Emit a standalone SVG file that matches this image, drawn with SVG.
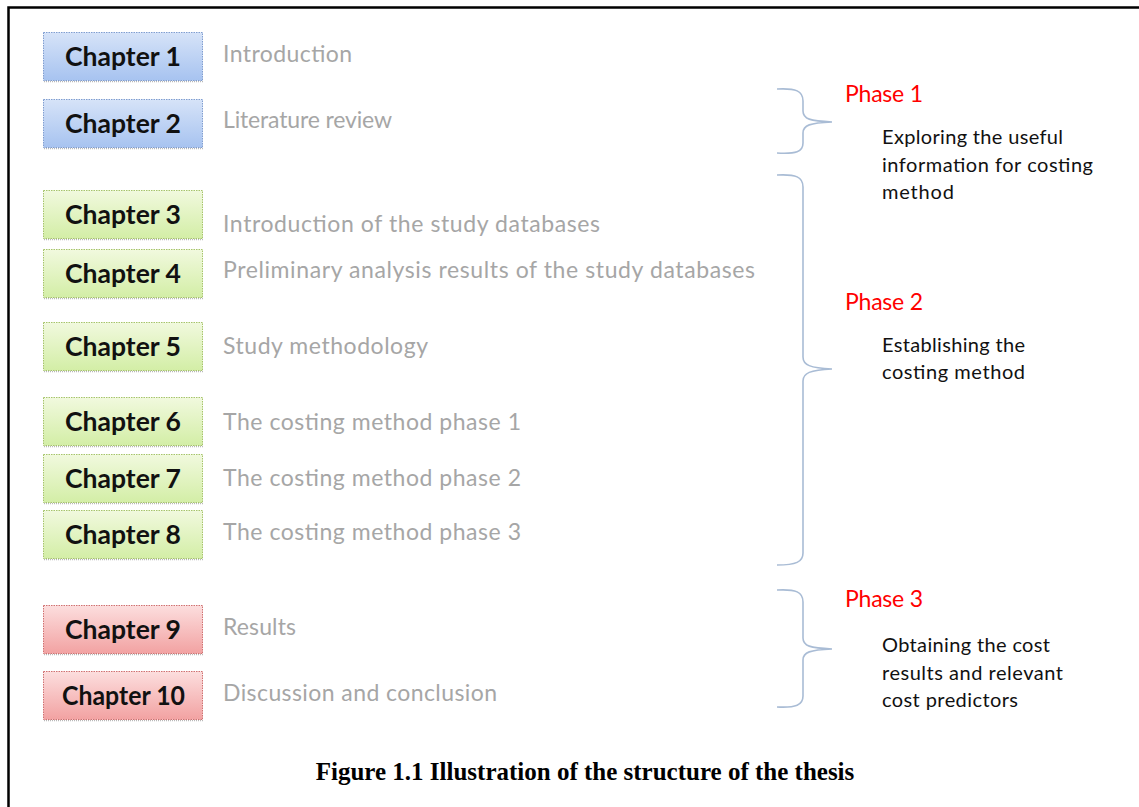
<svg xmlns="http://www.w3.org/2000/svg" width="1139" height="807" viewBox="0 0 1139 807">
  <defs>
    <linearGradient id="gBlue" x1="0" y1="0" x2="0" y2="1">
      <stop offset="0" stop-color="#d6e3f8"/>
      <stop offset="1" stop-color="#a7c3f0"/>
    </linearGradient>
    <linearGradient id="gGreen" x1="0" y1="0" x2="0" y2="1">
      <stop offset="0" stop-color="#f1f9de"/>
      <stop offset="1" stop-color="#d3eea6"/>
    </linearGradient>
    <linearGradient id="gRed" x1="0" y1="0" x2="0" y2="1">
      <stop offset="0" stop-color="#fcdede"/>
      <stop offset="1" stop-color="#f2a2a2"/>
    </linearGradient>
  </defs>
  <style>
    .frame { fill: none; stroke: #000; stroke-width: 2.5; }
    .box { stroke-width: 1; stroke-dasharray: 1.5 1; }
    .blue { fill: url(#gBlue); stroke: #7f9dd0; }
    .green { fill: url(#gGreen); stroke: #a6c46a; }
    .red { fill: url(#gRed); stroke: #d07070; }
    .shadow { stroke: #b8b8b8; stroke-width: 1.5; stroke-dasharray: 1 1; }
    .chap { font-family: Lato, "Liberation Sans", sans-serif; font-weight: bold; font-size: 26px; fill: #111; }
    .desc { font-family: Lato, "Open Sans", sans-serif; font-size: 23px; fill: #a6a6a6; }
    .phase { font-family: Lato, "Liberation Sans", sans-serif; font-size: 23px; fill: #ff0000; }
    .note { font-family: Lato, "Liberation Sans", sans-serif; font-size: 20px; fill: #111; }
    .brace { fill: none; stroke: #a9bcd5; stroke-width: 1.6; }
    .caption { font-family: "Liberation Serif", serif; font-weight: bold; font-size: 25px; fill: #000; text-anchor: middle; }
  </style>

  <rect width="1139" height="807" fill="#fff"/>
  <path class="frame" d="M8.5,807 V7.5 H1139"/>

  <g id="chapter1">
    <line class="shadow" x1="44" y1="81.5" x2="203" y2="81.5"/>
    <rect class="box blue" x="43.5" y="32.5" width="159" height="48"/>
    <text class="chap" x="65" y="66" textLength="116" lengthAdjust="spacingAndGlyphs">Chapter 1</text>
    <text class="desc" x="223" y="62" textLength="129">Introduction</text>
  </g>
  <g id="chapter2">
    <line class="shadow" x1="44" y1="148.5" x2="203" y2="148.5"/>
    <rect class="box blue" x="43.5" y="99.5" width="159" height="48"/>
    <text class="chap" x="65" y="133" textLength="116" lengthAdjust="spacingAndGlyphs">Chapter 2</text>
    <text class="desc" x="223" y="128" textLength="169">Literature review</text>
  </g>
  <g id="chapter3">
    <line class="shadow" x1="44" y1="239.5" x2="203" y2="239.5"/>
    <rect class="box green" x="43.5" y="190.5" width="159" height="48"/>
    <text class="chap" x="65" y="224" textLength="116" lengthAdjust="spacingAndGlyphs">Chapter 3</text>
    <text class="desc" x="223" y="232" textLength="377">Introduction of the study databases</text>
  </g>
  <g id="chapter4">
    <line class="shadow" x1="44" y1="298.5" x2="203" y2="298.5"/>
    <rect class="box green" x="43.5" y="249.5" width="159" height="48"/>
    <text class="chap" x="65" y="283" textLength="116" lengthAdjust="spacingAndGlyphs">Chapter 4</text>
    <text class="desc" x="223" y="278" textLength="532">Preliminary analysis results of the study databases</text>
  </g>
  <g id="chapter5">
    <line class="shadow" x1="44" y1="371.5" x2="203" y2="371.5"/>
    <rect class="box green" x="43.5" y="322.5" width="159" height="48"/>
    <text class="chap" x="65" y="356" textLength="116" lengthAdjust="spacingAndGlyphs">Chapter 5</text>
    <text class="desc" x="223" y="354" textLength="205">Study methodology</text>
  </g>
  <g id="chapter6">
    <line class="shadow" x1="44" y1="446.5" x2="203" y2="446.5"/>
    <rect class="box green" x="43.5" y="397.5" width="159" height="48"/>
    <text class="chap" x="65" y="431" textLength="116" lengthAdjust="spacingAndGlyphs">Chapter 6</text>
    <text class="desc" x="223" y="430" textLength="298">The costing method phase 1</text>
  </g>
  <g id="chapter7">
    <line class="shadow" x1="44" y1="503.5" x2="203" y2="503.5"/>
    <rect class="box green" x="43.5" y="454.5" width="159" height="48"/>
    <text class="chap" x="65" y="488" textLength="116" lengthAdjust="spacingAndGlyphs">Chapter 7</text>
    <text class="desc" x="223" y="486" textLength="298">The costing method phase 2</text>
  </g>
  <g id="chapter8">
    <line class="shadow" x1="44" y1="559.5" x2="203" y2="559.5"/>
    <rect class="box green" x="43.5" y="510.5" width="159" height="48"/>
    <text class="chap" x="65" y="544" textLength="116" lengthAdjust="spacingAndGlyphs">Chapter 8</text>
    <text class="desc" x="223" y="540" textLength="298">The costing method phase 3</text>
  </g>
  <g id="chapter9">
    <line class="shadow" x1="44" y1="654.5" x2="203" y2="654.5"/>
    <rect class="box red" x="43.5" y="605.5" width="159" height="48"/>
    <text class="chap" x="65" y="639" textLength="116" lengthAdjust="spacingAndGlyphs">Chapter 9</text>
    <text class="desc" x="223" y="635" textLength="73">Results</text>
  </g>
  <g id="chapter10">
    <line class="shadow" x1="44" y1="720.5" x2="203" y2="720.5"/>
    <rect class="box red" x="43.5" y="671.5" width="159" height="48"/>
    <text class="chap" x="62" y="705" textLength="123" lengthAdjust="spacingAndGlyphs">Chapter 10</text>
    <text class="desc" x="223" y="701" textLength="274">Discussion and conclusion</text>
  </g>

  <!-- curly braces grouping the chapters into phases -->
  <g id="connectors">
    <path class="brace" d="M777,89 C796,88 803,91 803,101 L803,111 C803,119 810,121 832,122 C810,123 803,125 803,133 L803,143 C803,152 796,154 777,153"/>
    <path class="brace" d="M777,175 C796,174 803,177 803,187 L803,357 C803,365 810,368 832,369 C810,370 803,373 803,381 L803,553 C803,562 796,565 777,565"/>
    <path class="brace" d="M777,590 C796,589 803,592 803,602 L803,638 C803,646 810,648 832,649 C810,650 803,652 803,660 L803,696 C803,705 796,708 777,707"/>
  </g>

  <g id="phase1">
    <text class="phase" x="845" y="102" textLength="78">Phase 1</text>
    <text class="note" x="882" y="144" textLength="181">Exploring the useful</text>
    <text class="note" x="882" y="172" textLength="211">information for costing</text>
    <text class="note" x="882" y="199" textLength="72">method</text>
  </g>
  <g id="phase2">
    <text class="phase" x="845" y="310" textLength="78">Phase 2</text>
    <text class="note" x="882" y="352" textLength="143">Establishing the</text>
    <text class="note" x="882" y="379" textLength="143">costing method</text>
  </g>
  <g id="phase3">
    <text class="phase" x="845" y="607" textLength="78">Phase 3</text>
    <text class="note" x="882" y="652" textLength="168">Obtaining the cost</text>
    <text class="note" x="882" y="680" textLength="181">results and relevant</text>
    <text class="note" x="882" y="707" textLength="136">cost predictors</text>
  </g>

  <text class="caption" x="585" y="780">Figure 1.1 Illustration of the structure of the thesis</text>
</svg>
